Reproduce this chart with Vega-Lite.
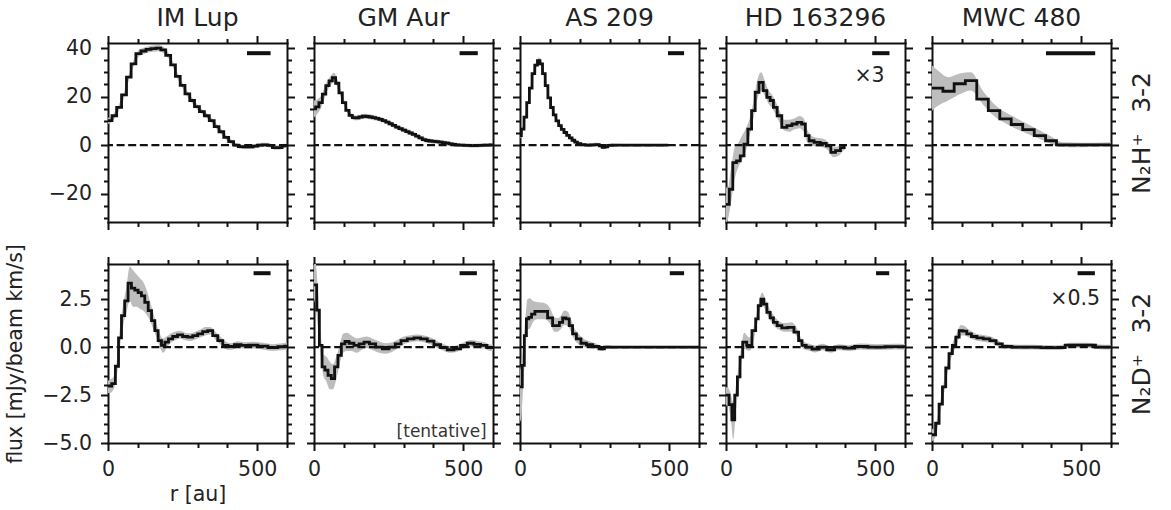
{
"$schema": "https://vega.github.io/schema/vega-lite/v6.json",
"padding": {"left": 5, "top": 5, "right": 5, "bottom": 5},
"background": "white",
"config": {
 "font": "DejaVu Sans",
 "view": {"stroke": null},
 "axis": {"grid": false, "domainColor": "#111", "domainWidth": 2, "domainCap": "square", "tickColor": "#111", "tickWidth": 2, "labelFont": "DejaVu Sans", "labelFontSize": 20.5, "labelColor": "#222", "titleFont": "DejaVu Sans", "titleFontSize": 20.5, "titleFontWeight": "normal", "titleColor": "#222", "labelPadding": 9, "labelOverlap": false, "labelFlush": false, "labelBound": false},
 "title": {"font": "DejaVu Sans", "fontSize": 25, "fontWeight": "normal", "color": "#222", "offset": 4, "anchor": "middle"}
},
"datasets": {
 "h1": [{"r":0,"v":10.1,"lo":8.8,"hi":11.4},{"r":6,"v":10.1,"lo":8.9,"hi":11.3},{"r":21,"v":12.1,"lo":10.9,"hi":13.3},{"r":37,"v":15.6,"lo":14.4,"hi":16.8},{"r":54,"v":20.7,"lo":19.4,"hi":22},{"r":70,"v":28,"lo":26.7,"hi":29.3},{"r":85,"v":33.5,"lo":32.2,"hi":34.8},{"r":102,"v":37.7,"lo":36.4,"hi":39},{"r":119,"v":38.8,"lo":37.5,"hi":40.1},{"r":136,"v":39.5,"lo":38.2,"hi":40.8},{"r":152,"v":39.8,"lo":38.5,"hi":41.1},{"r":169,"v":40,"lo":38.7,"hi":41.3},{"r":185,"v":39.3,"lo":38,"hi":40.6},{"r":202,"v":37,"lo":35.8,"hi":38.2},{"r":218,"v":33.1,"lo":31.9,"hi":34.3},{"r":234,"v":28.3,"lo":27.1,"hi":29.5},{"r":250,"v":24.6,"lo":23.5,"hi":25.7},{"r":266,"v":21.1,"lo":20,"hi":22.2},{"r":282,"v":18.4,"lo":17.3,"hi":19.5},{"r":298,"v":15.9,"lo":14.8,"hi":17},{"r":315,"v":13.8,"lo":12.8,"hi":14.8},{"r":331,"v":12.1,"lo":11.1,"hi":13.1},{"r":348,"v":10.1,"lo":9.1,"hi":11.1},{"r":364,"v":7.6,"lo":6.6,"hi":8.6},{"r":380,"v":5.5,"lo":4.5,"hi":6.5},{"r":396,"v":3.2,"lo":2.2,"hi":4.2},{"r":413,"v":1.4,"lo":0.5,"hi":2.3},{"r":429,"v":0,"lo":-0.9,"hi":0.9},{"r":445,"v":-0.6,"lo":-1.5,"hi":0.3},{"r":461,"v":-0.7,"lo":-1.6,"hi":0.2},{"r":478,"v":-0.7,"lo":-1.6,"hi":0.2},{"r":494,"v":-0.4,"lo":-1.3,"hi":0.5},{"r":510,"v":0,"lo":-0.9,"hi":0.9},{"r":526,"v":0.1,"lo":-0.8,"hi":1},{"r":543,"v":-0.1,"lo":-1,"hi":0.8},{"r":559,"v":-1,"lo":-1.9,"hi":-0.1},{"r":575,"v":-1,"lo":-1.9,"hi":-0.1},{"r":592,"v":-0.3,"lo":-1.2,"hi":0.6},{"r":600,"v":-0.3,"lo":-1.2,"hi":0.6}],
 "h2": [{"r":0,"v":14.9,"lo":11.4,"hi":18.4},{"r":11,"v":15.8,"lo":12.8,"hi":18.8},{"r":22,"v":17.5,"lo":15,"hi":20},{"r":34,"v":21,"lo":18.8,"hi":23.2},{"r":45,"v":24.5,"lo":22.5,"hi":26.5},{"r":56,"v":26.5,"lo":24.7,"hi":28.5},{"r":67,"v":27.8,"lo":26,"hi":29.8},{"r":78,"v":25.5,"lo":23.8,"hi":27.3},{"r":89,"v":21.5,"lo":20,"hi":23},{"r":101,"v":17.5,"lo":16.2,"hi":18.8},{"r":112,"v":14.3,"lo":13.1,"hi":15.5},{"r":123,"v":12.3,"lo":11.2,"hi":13.4},{"r":134,"v":11.3,"lo":10.3,"hi":12.3},{"r":145,"v":11.2,"lo":10.2,"hi":12.2},{"r":156,"v":11.6,"lo":10.6,"hi":12.6},{"r":168,"v":11.9,"lo":10.9,"hi":12.9},{"r":179,"v":11.8,"lo":10.8,"hi":12.8},{"r":190,"v":11.6,"lo":10.6,"hi":12.6},{"r":201,"v":11.3,"lo":10.3,"hi":12.3},{"r":212,"v":11,"lo":10,"hi":12},{"r":223,"v":10.6,"lo":9.6,"hi":11.6},{"r":235,"v":10.1,"lo":9.1,"hi":11.1},{"r":246,"v":9.5,"lo":8.5,"hi":10.5},{"r":257,"v":8.8,"lo":7.8,"hi":9.8},{"r":268,"v":8.1,"lo":7.1,"hi":9.1},{"r":279,"v":7.4,"lo":6.4,"hi":8.4},{"r":290,"v":6.8,"lo":5.8,"hi":7.8},{"r":302,"v":6.2,"lo":5.2,"hi":7.2},{"r":313,"v":5.6,"lo":4.6,"hi":6.6},{"r":324,"v":5,"lo":4,"hi":6},{"r":335,"v":4.4,"lo":3.4,"hi":5.4},{"r":346,"v":3.7,"lo":2.7,"hi":4.7},{"r":357,"v":3,"lo":2,"hi":4},{"r":369,"v":2.3,"lo":1.3,"hi":3.3},{"r":380,"v":1.9,"lo":1,"hi":2.8},{"r":391,"v":1.7,"lo":0.8,"hi":2.6},{"r":402,"v":1.5,"lo":0.6,"hi":2.4},{"r":413,"v":1.4,"lo":0.5,"hi":2.3},{"r":424,"v":1.2,"lo":0.3,"hi":2.1},{"r":436,"v":1,"lo":0.1,"hi":1.9},{"r":447,"v":0.8,"lo":-0.1,"hi":1.7},{"r":458,"v":0.5,"lo":-0.4,"hi":1.4},{"r":469,"v":0.3,"lo":-0.6,"hi":1.2},{"r":480,"v":0.1,"lo":-0.8,"hi":1},{"r":491,"v":0,"lo":-0.8,"hi":0.8},{"r":514,"v":-0.1,"lo":-0.9,"hi":0.7},{"r":536,"v":-0.2,"lo":-1,"hi":0.6},{"r":558,"v":-0.1,"lo":-0.9,"hi":0.7},{"r":580,"v":0,"lo":-0.8,"hi":0.8},{"r":600,"v":0.1,"lo":-0.7,"hi":0.9}],
 "h3": [{"r":0,"v":3.9,"lo":2.6,"hi":5.2},{"r":9,"v":6.6,"lo":5.3,"hi":7.9},{"r":18,"v":11.5,"lo":10.2,"hi":12.8},{"r":27,"v":17.5,"lo":16.2,"hi":18.8},{"r":36,"v":23.5,"lo":22.2,"hi":24.8},{"r":45,"v":29.5,"lo":28.2,"hi":30.8},{"r":54,"v":33,"lo":31.7,"hi":34.3},{"r":63,"v":34.8,"lo":33.5,"hi":36.1},{"r":71,"v":33.5,"lo":32.2,"hi":34.8},{"r":80,"v":29.5,"lo":28.2,"hi":30.8},{"r":89,"v":24.5,"lo":23.2,"hi":25.8},{"r":98,"v":19.5,"lo":18.3,"hi":20.7},{"r":107,"v":15.5,"lo":14.3,"hi":16.7},{"r":116,"v":12.5,"lo":11.4,"hi":13.6},{"r":125,"v":10,"lo":8.9,"hi":11.1},{"r":134,"v":8,"lo":6.9,"hi":9.1},{"r":143,"v":6.5,"lo":5.5,"hi":7.5},{"r":152,"v":5.2,"lo":4.2,"hi":6.2},{"r":161,"v":4,"lo":3,"hi":5},{"r":170,"v":3,"lo":2,"hi":4},{"r":179,"v":2,"lo":1,"hi":3},{"r":188,"v":1.2,"lo":0.3,"hi":2.1},{"r":197,"v":0.6,"lo":-0.3,"hi":1.5},{"r":210,"v":0.2,"lo":-0.6,"hi":1},{"r":227,"v":0,"lo":-0.8,"hi":0.8},{"r":244,"v":0.1,"lo":-0.7,"hi":0.9},{"r":260,"v":0.2,"lo":-0.6,"hi":1},{"r":271,"v":-0.3,"lo":-1.1,"hi":0.5},{"r":280,"v":-0.9,"lo":-1.7,"hi":-0.1},{"r":289,"v":-0.7,"lo":-1.5,"hi":0.1},{"r":299,"v":-0.1,"lo":-0.9,"hi":0.7},{"r":320,"v":0,"lo":-0.6,"hi":0.6},{"r":360,"v":0,"lo":-0.5,"hi":0.5},{"r":400,"v":0,"lo":-0.5,"hi":0.5},{"r":440,"v":0,"lo":-0.5,"hi":0.5},{"r":480,"v":0,"lo":-0.5,"hi":0.5},{"r":497,"v":0,"lo":-0.5,"hi":0.5}],
 "h4": [{"r":0,"v":-24.4,"lo":-32,"hi":-17},{"r":5.5,"v":-24.4,"lo":-31,"hi":-18},{"r":16.5,"v":-18.2,"lo":-24,"hi":-10},{"r":29,"v":-7.2,"lo":-14,"hi":-1},{"r":41.5,"v":-6.5,"lo":-9,"hi":1},{"r":54,"v":-4.4,"lo":-6,"hi":4},{"r":67,"v":0.4,"lo":-2,"hi":7},{"r":79.5,"v":6.6,"lo":4,"hi":11},{"r":92,"v":14.2,"lo":11,"hi":18},{"r":103.5,"v":21.8,"lo":18,"hi":26},{"r":117.5,"v":25.9,"lo":22.5,"hi":30},{"r":131.5,"v":22.5,"lo":20,"hi":26},{"r":142.5,"v":19.7,"lo":17,"hi":22.5},{"r":153.5,"v":18.4,"lo":15.5,"hi":21},{"r":164.5,"v":15.6,"lo":13,"hi":18.5},{"r":178.5,"v":12.1,"lo":9.5,"hi":14.5},{"r":195.5,"v":7.3,"lo":6,"hi":10.5},{"r":212.5,"v":8,"lo":5.5,"hi":10.5},{"r":229.5,"v":8.7,"lo":6.5,"hi":11},{"r":246.5,"v":9.4,"lo":7,"hi":12},{"r":260.5,"v":8.7,"lo":5.5,"hi":11},{"r":271.5,"v":3.9,"lo":1.5,"hi":6.5},{"r":285.5,"v":1.8,"lo":0,"hi":4},{"r":305,"v":1.1,"lo":-0.7,"hi":3},{"r":327.5,"v":0.7,"lo":-1,"hi":2.5},{"r":344.5,"v":-0.3,"lo":-2.5,"hi":1},{"r":358.5,"v":-3,"lo":-5,"hi":-1},{"r":375.5,"v":-2.3,"lo":-4.5,"hi":-0.5},{"r":392,"v":-1,"lo":-2.5,"hi":0.3},{"r":400,"v":-0.3,"lo":-1.5,"hi":0.5}],
 "h5": [{"r":0,"v":23.5,"lo":14.2,"hi":32.8},{"r":17.5,"v":23.5,"lo":16,"hi":31},{"r":55.5,"v":22.2,"lo":18.5,"hi":28},{"r":93,"v":25.3,"lo":21,"hi":29.5},{"r":130.5,"v":26.6,"lo":22.5,"hi":30},{"r":169.5,"v":19,"lo":17,"hi":22.5},{"r":208,"v":14.2,"lo":12,"hi":17},{"r":246.5,"v":10.8,"lo":9,"hi":13.5},{"r":284.5,"v":8.5,"lo":6.5,"hi":11},{"r":323.5,"v":6.4,"lo":4.5,"hi":8.5},{"r":362,"v":3.9,"lo":2.5,"hi":6},{"r":399.5,"v":1.8,"lo":0.5,"hi":3.5},{"r":435,"v":0.1,"lo":-0.8,"hi":1.2},{"r":500,"v":0.1,"lo":-0.9,"hi":1},{"r":550,"v":0.1,"lo":-0.7,"hi":1},{"r":600,"v":0.1,"lo":-0.5,"hi":1.2}],
 "d1": [{"r":0,"v":-2.03,"lo":-2.4,"hi":-1.75},{"r":6,"v":-2.03,"lo":-2.4,"hi":-1.7},{"r":19,"v":-1.9,"lo":-2.2,"hi":-1.55},{"r":30.5,"v":-1,"lo":-1.4,"hi":-0.6},{"r":40,"v":0.48,"lo":0,"hi":1},{"r":50.5,"v":1.64,"lo":1.1,"hi":2.2},{"r":61.5,"v":2.41,"lo":1.8,"hi":3.1},{"r":73,"v":3.33,"lo":2.4,"hi":4.2},{"r":84,"v":3.07,"lo":2.1,"hi":4},{"r":95.5,"v":2.97,"lo":2.1,"hi":3.8},{"r":106.5,"v":2.84,"lo":2,"hi":3.6},{"r":117.5,"v":2.67,"lo":1.9,"hi":3.4},{"r":129,"v":2.33,"lo":1.7,"hi":3},{"r":140.5,"v":1.9,"lo":1.4,"hi":2.4},{"r":151.5,"v":1.38,"lo":0.95,"hi":1.8},{"r":162.5,"v":0.86,"lo":0.5,"hi":1.2},{"r":173.5,"v":0.34,"lo":0,"hi":0.7},{"r":185,"v":0.09,"lo":-0.3,"hi":0.45},{"r":196.5,"v":0.26,"lo":-0.05,"hi":0.55},{"r":209,"v":0.43,"lo":0.2,"hi":0.7},{"r":224.5,"v":0.55,"lo":0.35,"hi":0.8},{"r":241.5,"v":0.64,"lo":0.45,"hi":0.85},{"r":258.5,"v":0.55,"lo":0.35,"hi":0.75},{"r":275.5,"v":0.52,"lo":0.32,"hi":0.72},{"r":292.5,"v":0.6,"lo":0.4,"hi":0.8},{"r":309,"v":0.69,"lo":0.5,"hi":0.9},{"r":325.5,"v":0.81,"lo":0.6,"hi":1.05},{"r":342.5,"v":0.86,"lo":0.65,"hi":1.05},{"r":359.5,"v":0.6,"lo":0.4,"hi":0.8},{"r":376.5,"v":0.34,"lo":0.15,"hi":0.55},{"r":393,"v":0.09,"lo":-0.1,"hi":0.3},{"r":412.5,"v":0.03,"lo":-0.15,"hi":0.2},{"r":435,"v":0.12,"lo":-0.05,"hi":0.3},{"r":457.5,"v":0.09,"lo":-0.08,"hi":0.25},{"r":485.5,"v":0.1,"lo":-0.08,"hi":0.28},{"r":519,"v":0.05,"lo":-0.12,"hi":0.22},{"r":553,"v":-0.03,"lo":-0.2,"hi":0.15},{"r":585,"v":0.02,"lo":-0.15,"hi":0.2},{"r":600,"v":0.05,"lo":-0.12,"hi":0.22}],
 "d2": [{"r":0,"v":3.24,"lo":2.5,"hi":4.8},{"r":4.5,"v":3.24,"lo":2.2,"hi":4.6},{"r":13.5,"v":1.93,"lo":1,"hi":2.9},{"r":22.5,"v":0.09,"lo":-0.4,"hi":0.7},{"r":31.5,"v":-1.03,"lo":-1.5,"hi":-0.4},{"r":41.5,"v":-1.2,"lo":-1.8,"hi":-0.5},{"r":52.5,"v":-1.47,"lo":-2.2,"hi":-0.75},{"r":63.5,"v":-1.64,"lo":-2.2,"hi":-0.9},{"r":74.5,"v":-1.03,"lo":-1.7,"hi":-0.5},{"r":86,"v":-0.43,"lo":-0.9,"hi":0.1},{"r":97.5,"v":0.17,"lo":-0.3,"hi":0.7},{"r":110,"v":0.29,"lo":-0.2,"hi":0.75},{"r":125.5,"v":0.2,"lo":-0.2,"hi":0.6},{"r":142.5,"v":0.09,"lo":-0.3,"hi":0.45},{"r":159.5,"v":0.17,"lo":-0.15,"hi":0.5},{"r":176,"v":0.26,"lo":-0.05,"hi":0.55},{"r":195.5,"v":0.17,"lo":-0.15,"hi":0.45},{"r":218,"v":0,"lo":-0.3,"hi":0.3},{"r":240,"v":-0.09,"lo":-0.35,"hi":0.2},{"r":262.5,"v":0,"lo":-0.25,"hi":0.25},{"r":282,"v":0.17,"lo":-0.05,"hi":0.4},{"r":301.5,"v":0.34,"lo":0.15,"hi":0.55},{"r":324,"v":0.43,"lo":0.25,"hi":0.62},{"r":346,"v":0.48,"lo":0.3,"hi":0.65},{"r":368.5,"v":0.43,"lo":0.25,"hi":0.6},{"r":391,"v":0.31,"lo":0.13,"hi":0.5},{"r":413,"v":0.12,"lo":-0.05,"hi":0.3},{"r":435.5,"v":-0.03,"lo":-0.2,"hi":0.15},{"r":458,"v":-0.14,"lo":-0.3,"hi":0.05},{"r":480,"v":-0.09,"lo":-0.25,"hi":0.1},{"r":502.5,"v":0.09,"lo":-0.08,"hi":0.25},{"r":525,"v":0.2,"lo":0.03,"hi":0.37},{"r":547,"v":0.14,"lo":-0.03,"hi":0.32},{"r":569.5,"v":0.09,"lo":-0.08,"hi":0.26},{"r":590,"v":-0.03,"lo":-0.2,"hi":0.14},{"r":600,"v":-0.03,"lo":-0.2,"hi":0.14}],
 "d3": [{"r":0,"v":-2.07,"lo":-3.9,"hi":-1.2},{"r":4,"v":-2.07,"lo":-3.7,"hi":-0.9},{"r":11,"v":-0.95,"lo":-2,"hi":0.2},{"r":18,"v":0.6,"lo":-0.2,"hi":1.5},{"r":25,"v":1.47,"lo":0.9,"hi":2.5},{"r":34,"v":1.55,"lo":1,"hi":2.55},{"r":43.5,"v":1.72,"lo":1.3,"hi":2.4},{"r":56.5,"v":1.86,"lo":1.45,"hi":2.35},{"r":81.5,"v":1.86,"lo":1.45,"hi":2.3},{"r":103.5,"v":1.52,"lo":1.15,"hi":1.95},{"r":115,"v":1.12,"lo":0.8,"hi":1.55},{"r":126.5,"v":1.12,"lo":0.8,"hi":1.5},{"r":137.5,"v":1.29,"lo":0.95,"hi":1.65},{"r":148.5,"v":1.52,"lo":1.15,"hi":1.9},{"r":159.5,"v":1.47,"lo":1.1,"hi":1.85},{"r":170.5,"v":1.12,"lo":0.8,"hi":1.45},{"r":182,"v":0.69,"lo":0.4,"hi":1},{"r":196,"v":0.43,"lo":0.15,"hi":0.7},{"r":212.5,"v":0.2,"lo":0,"hi":0.45},{"r":232.5,"v":0.12,"lo":-0.05,"hi":0.3},{"r":255,"v":0.03,"lo":-0.1,"hi":0.18},{"r":274.5,"v":-0.09,"lo":-0.2,"hi":0.05},{"r":291,"v":0,"lo":-0.1,"hi":0.1},{"r":320,"v":0,"lo":-0.06,"hi":0.06},{"r":380,"v":0,"lo":-0.06,"hi":0.06},{"r":440,"v":0,"lo":-0.06,"hi":0.06},{"r":500,"v":0,"lo":-0.06,"hi":0.06},{"r":560,"v":0,"lo":-0.06,"hi":0.06},{"r":600,"v":0,"lo":-0.06,"hi":0.06}],
 "d4": [{"r":0,"v":-2.5,"lo":-3.1,"hi":-2.1},{"r":5.5,"v":-2.5,"lo":-3,"hi":-2.1},{"r":15,"v":-3,"lo":-3.6,"hi":-2.4},{"r":24.5,"v":-3.79,"lo":-4.8,"hi":-2.9},{"r":34,"v":-2.5,"lo":-3.2,"hi":-1.9},{"r":42.5,"v":-1.55,"lo":-2.1,"hi":-1},{"r":51.5,"v":-0.52,"lo":-0.9,"hi":0},{"r":60.5,"v":0.26,"lo":-0.1,"hi":0.75},{"r":78.5,"v":0.09,"lo":-0.2,"hi":0.5},{"r":95.5,"v":0.86,"lo":0.55,"hi":1.2},{"r":103.5,"v":1.47,"lo":1.15,"hi":1.8},{"r":112.5,"v":2.16,"lo":1.85,"hi":2.5},{"r":121.5,"v":2.5,"lo":2.2,"hi":2.85},{"r":131.5,"v":2.24,"lo":1.95,"hi":2.55},{"r":142.5,"v":1.81,"lo":1.55,"hi":2.1},{"r":153.5,"v":1.52,"lo":1.25,"hi":1.8},{"r":164.5,"v":1.29,"lo":1.05,"hi":1.55},{"r":178.5,"v":1.12,"lo":0.9,"hi":1.35},{"r":195.5,"v":1,"lo":0.8,"hi":1.25},{"r":218,"v":1.03,"lo":0.8,"hi":1.3},{"r":237.5,"v":0.78,"lo":0.55,"hi":1},{"r":249,"v":0.34,"lo":0.15,"hi":0.55},{"r":260.5,"v":0.09,"lo":-0.1,"hi":0.3},{"r":277,"v":0,"lo":-0.18,"hi":0.18},{"r":299.5,"v":-0.1,"lo":-0.28,"hi":0.08},{"r":325,"v":0,"lo":-0.17,"hi":0.17},{"r":350,"v":-0.14,"lo":-0.3,"hi":0.02},{"r":378,"v":0,"lo":-0.15,"hi":0.15},{"r":411.5,"v":-0.05,"lo":-0.2,"hi":0.1},{"r":450.5,"v":0.03,"lo":-0.12,"hi":0.18},{"r":501,"v":0,"lo":-0.15,"hi":0.15},{"r":564.5,"v":0.02,"lo":-0.13,"hi":0.17},{"r":600,"v":0.02,"lo":-0.13,"hi":0.15}],
 "d5": [{"r":0,"v":-4.57,"lo":-4.9,"hi":-4.25},{"r":6,"v":-4.57,"lo":-4.85,"hi":-4.3},{"r":18,"v":-3.97,"lo":-4.3,"hi":-3.65},{"r":29.5,"v":-2.97,"lo":-3.3,"hi":-2.65},{"r":40.5,"v":-2.07,"lo":-2.4,"hi":-1.75},{"r":51.5,"v":-1.09,"lo":-1.4,"hi":-0.8},{"r":62.5,"v":-0.34,"lo":-0.65,"hi":-0.05},{"r":74,"v":0.09,"lo":-0.2,"hi":0.4},{"r":85.5,"v":0.52,"lo":0.25,"hi":0.8},{"r":96.5,"v":0.86,"lo":0.6,"hi":1.15},{"r":109,"v":0.83,"lo":0.6,"hi":1.1},{"r":124,"v":0.69,"lo":0.5,"hi":0.9},{"r":140.5,"v":0.55,"lo":0.38,"hi":0.75},{"r":160.5,"v":0.48,"lo":0.3,"hi":0.65},{"r":183,"v":0.43,"lo":0.25,"hi":0.6},{"r":205,"v":0.34,"lo":0.18,"hi":0.5},{"r":224.5,"v":0.17,"lo":0.02,"hi":0.32},{"r":247,"v":0.03,"lo":-0.1,"hi":0.16},{"r":289,"v":0,"lo":-0.12,"hi":0.12},{"r":339.5,"v":0,"lo":-0.12,"hi":0.12},{"r":390,"v":-0.03,"lo":-0.15,"hi":0.1},{"r":429.5,"v":-0.03,"lo":-0.15,"hi":0.1},{"r":463.5,"v":0.1,"lo":-0.03,"hi":0.23},{"r":519.5,"v":0.1,"lo":-0.03,"hi":0.23},{"r":576.5,"v":0,"lo":-0.12,"hi":0.12},{"r":600,"v":0,"lo":-0.12,"hi":0.12}]
},
"columns": 5,
"spacing": {"row": 42, "column": 27},
"bounds": "flush",
"concat": [
 {"width": 179, "height": 179, "title": {"text": "IM Lup"},
  "resolve": {"scale": {"x": "shared", "y": "shared"}, "axis": {"x": "independent", "y": "independent"}},
  "layer": [
   {"data": {"name": "h1"}, "mark": {"type": "area", "interpolate": "monotone", "color": "#bdbdbd", "clip": true},
    "encoding": {"x": {"field": "r", "type": "quantitative", "scale": {"domain": [0, 600], "nice": false, "zero": false}, "axis": {"orient": "bottom", "values": [0,100,200,300,400,500,600], "labels": false, "title": null, "tickSize": {"condition": {"test": "datum.value % 500 === 0", "value": 7.5}, "value": 4.5}}},
     "y": {"field": "lo", "type": "quantitative", "scale": {"domain": [-31.7, 42.1], "nice": false, "zero": false}, "axis": {"orient": "left", "values": [-30,-25,-20,-15,-10,-5,0,5,10,15,20,25,30,35,40], "format": "d", "labelExpr": "datum.value % 20 === 0 ? datum.label : ''", "title": null, "tickSize": {"condition": {"test": "datum.value % 20 === 0", "value": 7.5}, "value": 4.5}}},
     "y2": {"field": "hi"}}},
   {"data": {"values": [{"zero": 0}]}, "mark": {"type": "rule", "color": "#111", "strokeWidth": 2.2, "strokeDash": [8, 3.6]},
    "encoding": {"y": {"field": "zero", "type": "quantitative", "scale": {"domain": [-31.7, 42.1], "nice": false, "zero": false}, "axis": null}}},
   {"data": {"name": "h1"}, "mark": {"type": "line", "interpolate": "step", "color": "#111", "strokeWidth": 2.8, "clip": true},
    "encoding": {"x": {"field": "r", "type": "quantitative", "scale": {"domain": [0, 600], "nice": false, "zero": false}, "axis": {"orient": "top", "values": [0,100,200,300,400,500,600], "labels": false, "title": null, "tickSize": {"condition": {"test": "datum.value % 500 === 0", "value": 7.5}, "value": 4.5}}},
     "y": {"field": "v", "type": "quantitative", "scale": {"domain": [-31.7, 42.1], "nice": false, "zero": false}, "axis": {"orient": "right", "values": [-30,-25,-20,-15,-10,-5,0,5,10,15,20,25,30,35,40], "labels": false, "title": null, "tickSize": {"condition": {"test": "datum.value % 20 === 0", "value": 7.5}, "value": 4.5}}}}},
   {"data": {"values": [{"r0": 466, "r1": 545, "v": 37.9}]}, "mark": {"type": "rule", "color": "#111", "strokeWidth": 4},
    "encoding": {"x": {"field": "r0", "type": "quantitative", "scale": {"domain": [0, 600], "nice": false, "zero": false}, "axis": null}, "x2": {"field": "r1"}, "y": {"field": "v", "type": "quantitative", "scale": {"domain": [-31.7, 42.1], "nice": false, "zero": false}, "axis": null}}}
  ]},
 {"width": 179, "height": 179, "title": {"text": "GM Aur"},
  "resolve": {"scale": {"x": "shared", "y": "shared"}, "axis": {"x": "independent", "y": "independent"}},
  "layer": [
   {"data": {"name": "h2"}, "mark": {"type": "area", "interpolate": "monotone", "color": "#bdbdbd", "clip": true},
    "encoding": {"x": {"field": "r", "type": "quantitative", "scale": {"domain": [0, 600], "nice": false, "zero": false}, "axis": {"orient": "bottom", "values": [0,100,200,300,400,500,600], "labels": false, "title": null, "tickSize": {"condition": {"test": "datum.value % 500 === 0", "value": 7.5}, "value": 4.5}}},
     "y": {"field": "lo", "type": "quantitative", "scale": {"domain": [-31.7, 42.1], "nice": false, "zero": false}, "axis": {"orient": "left", "values": [-30,-25,-20,-15,-10,-5,0,5,10,15,20,25,30,35,40], "labels": false, "title": null, "tickSize": {"condition": {"test": "datum.value % 20 === 0", "value": 7.5}, "value": 4.5}}},
     "y2": {"field": "hi"}}},
   {"data": {"values": [{"zero": 0}]}, "mark": {"type": "rule", "color": "#111", "strokeWidth": 2.2, "strokeDash": [8, 3.6]},
    "encoding": {"y": {"field": "zero", "type": "quantitative", "scale": {"domain": [-31.7, 42.1], "nice": false, "zero": false}, "axis": null}}},
   {"data": {"name": "h2"}, "mark": {"type": "line", "interpolate": "step", "color": "#111", "strokeWidth": 2.8, "clip": true},
    "encoding": {"x": {"field": "r", "type": "quantitative", "scale": {"domain": [0, 600], "nice": false, "zero": false}, "axis": {"orient": "top", "values": [0,100,200,300,400,500,600], "labels": false, "title": null, "tickSize": {"condition": {"test": "datum.value % 500 === 0", "value": 7.5}, "value": 4.5}}},
     "y": {"field": "v", "type": "quantitative", "scale": {"domain": [-31.7, 42.1], "nice": false, "zero": false}, "axis": {"orient": "right", "values": [-30,-25,-20,-15,-10,-5,0,5,10,15,20,25,30,35,40], "labels": false, "title": null, "tickSize": {"condition": {"test": "datum.value % 20 === 0", "value": 7.5}, "value": 4.5}}}}},
   {"data": {"values": [{"r0": 488, "r1": 549, "v": 37.9}]}, "mark": {"type": "rule", "color": "#111", "strokeWidth": 4},
    "encoding": {"x": {"field": "r0", "type": "quantitative", "scale": {"domain": [0, 600], "nice": false, "zero": false}, "axis": null}, "x2": {"field": "r1"}, "y": {"field": "v", "type": "quantitative", "scale": {"domain": [-31.7, 42.1], "nice": false, "zero": false}, "axis": null}}}
  ]},
 {"width": 179, "height": 179, "title": {"text": "AS 209"},
  "resolve": {"scale": {"x": "shared", "y": "shared"}, "axis": {"x": "independent", "y": "independent"}},
  "layer": [
   {"data": {"name": "h3"}, "mark": {"type": "area", "interpolate": "monotone", "color": "#bdbdbd", "clip": true},
    "encoding": {"x": {"field": "r", "type": "quantitative", "scale": {"domain": [0, 600], "nice": false, "zero": false}, "axis": {"orient": "bottom", "values": [0,100,200,300,400,500,600], "labels": false, "title": null, "tickSize": {"condition": {"test": "datum.value % 500 === 0", "value": 7.5}, "value": 4.5}}},
     "y": {"field": "lo", "type": "quantitative", "scale": {"domain": [-31.7, 42.1], "nice": false, "zero": false}, "axis": {"orient": "left", "values": [-30,-25,-20,-15,-10,-5,0,5,10,15,20,25,30,35,40], "labels": false, "title": null, "tickSize": {"condition": {"test": "datum.value % 20 === 0", "value": 7.5}, "value": 4.5}}},
     "y2": {"field": "hi"}}},
   {"data": {"values": [{"zero": 0}]}, "mark": {"type": "rule", "color": "#111", "strokeWidth": 2.2, "strokeDash": [8, 3.6]},
    "encoding": {"y": {"field": "zero", "type": "quantitative", "scale": {"domain": [-31.7, 42.1], "nice": false, "zero": false}, "axis": null}}},
   {"data": {"name": "h3"}, "mark": {"type": "line", "interpolate": "step", "color": "#111", "strokeWidth": 2.8, "clip": true},
    "encoding": {"x": {"field": "r", "type": "quantitative", "scale": {"domain": [0, 600], "nice": false, "zero": false}, "axis": {"orient": "top", "values": [0,100,200,300,400,500,600], "labels": false, "title": null, "tickSize": {"condition": {"test": "datum.value % 500 === 0", "value": 7.5}, "value": 4.5}}},
     "y": {"field": "v", "type": "quantitative", "scale": {"domain": [-31.7, 42.1], "nice": false, "zero": false}, "axis": {"orient": "right", "values": [-30,-25,-20,-15,-10,-5,0,5,10,15,20,25,30,35,40], "labels": false, "title": null, "tickSize": {"condition": {"test": "datum.value % 20 === 0", "value": 7.5}, "value": 4.5}}}}},
   {"data": {"values": [{"r0": 496, "r1": 550, "v": 37.9}]}, "mark": {"type": "rule", "color": "#111", "strokeWidth": 4},
    "encoding": {"x": {"field": "r0", "type": "quantitative", "scale": {"domain": [0, 600], "nice": false, "zero": false}, "axis": null}, "x2": {"field": "r1"}, "y": {"field": "v", "type": "quantitative", "scale": {"domain": [-31.7, 42.1], "nice": false, "zero": false}, "axis": null}}}
  ]},
 {"width": 179, "height": 179, "title": {"text": "HD 163296"},
  "resolve": {"scale": {"x": "shared", "y": "shared"}, "axis": {"x": "independent", "y": "independent"}},
  "layer": [
   {"data": {"name": "h4"}, "mark": {"type": "area", "interpolate": "monotone", "color": "#bdbdbd", "clip": true},
    "encoding": {"x": {"field": "r", "type": "quantitative", "scale": {"domain": [0, 600], "nice": false, "zero": false}, "axis": {"orient": "bottom", "values": [0,100,200,300,400,500,600], "labels": false, "title": null, "tickSize": {"condition": {"test": "datum.value % 500 === 0", "value": 7.5}, "value": 4.5}}},
     "y": {"field": "lo", "type": "quantitative", "scale": {"domain": [-31.7, 42.1], "nice": false, "zero": false}, "axis": {"orient": "left", "values": [-30,-25,-20,-15,-10,-5,0,5,10,15,20,25,30,35,40], "labels": false, "title": null, "tickSize": {"condition": {"test": "datum.value % 20 === 0", "value": 7.5}, "value": 4.5}}},
     "y2": {"field": "hi"}}},
   {"data": {"values": [{"zero": 0}]}, "mark": {"type": "rule", "color": "#111", "strokeWidth": 2.2, "strokeDash": [8, 3.6]},
    "encoding": {"y": {"field": "zero", "type": "quantitative", "scale": {"domain": [-31.7, 42.1], "nice": false, "zero": false}, "axis": null}}},
   {"data": {"name": "h4"}, "mark": {"type": "line", "interpolate": "step", "color": "#111", "strokeWidth": 2.8, "clip": true},
    "encoding": {"x": {"field": "r", "type": "quantitative", "scale": {"domain": [0, 600], "nice": false, "zero": false}, "axis": {"orient": "top", "values": [0,100,200,300,400,500,600], "labels": false, "title": null, "tickSize": {"condition": {"test": "datum.value % 500 === 0", "value": 7.5}, "value": 4.5}}},
     "y": {"field": "v", "type": "quantitative", "scale": {"domain": [-31.7, 42.1], "nice": false, "zero": false}, "axis": {"orient": "right", "values": [-30,-25,-20,-15,-10,-5,0,5,10,15,20,25,30,35,40], "labels": false, "title": null, "tickSize": {"condition": {"test": "datum.value % 20 === 0", "value": 7.5}, "value": 4.5}}}}},
   {"data": {"values": [{"r0": 490, "r1": 548, "v": 37.9}]}, "mark": {"type": "rule", "color": "#111", "strokeWidth": 4},
    "encoding": {"x": {"field": "r0", "type": "quantitative", "scale": {"domain": [0, 600], "nice": false, "zero": false}, "axis": null}, "x2": {"field": "r1"}, "y": {"field": "v", "type": "quantitative", "scale": {"domain": [-31.7, 42.1], "nice": false, "zero": false}, "axis": null}}},
   {"data": {"values": [{"r": 481, "v": 28.4, "t": "×3"}]}, "mark": {"type": "text", "fontSize": 20.5, "color": "#222", "align": "center", "baseline": "middle"},
    "encoding": {"x": {"field": "r", "type": "quantitative", "scale": {"domain": [0, 600], "nice": false, "zero": false}, "axis": null}, "y": {"field": "v", "type": "quantitative", "scale": {"domain": [-31.7, 42.1], "nice": false, "zero": false}, "axis": null}, "text": {"field": "t"}}}
  ]},
 {"width": 179, "height": 179, "title": {"text": "MWC 480"},
  "resolve": {"scale": {"x": "shared", "y": "shared"}, "axis": {"x": "independent", "y": "independent"}},
  "layer": [
   {"data": {"name": "h5"}, "mark": {"type": "area", "interpolate": "monotone", "color": "#bdbdbd", "clip": true},
    "encoding": {"x": {"field": "r", "type": "quantitative", "scale": {"domain": [0, 600], "nice": false, "zero": false}, "axis": {"orient": "bottom", "values": [0,100,200,300,400,500,600], "labels": false, "title": null, "tickSize": {"condition": {"test": "datum.value % 500 === 0", "value": 7.5}, "value": 4.5}}},
     "y": {"field": "lo", "type": "quantitative", "scale": {"domain": [-31.7, 42.1], "nice": false, "zero": false}, "axis": {"orient": "left", "values": [-30,-25,-20,-15,-10,-5,0,5,10,15,20,25,30,35,40], "labels": false, "title": null, "tickSize": {"condition": {"test": "datum.value % 20 === 0", "value": 7.5}, "value": 4.5}}},
     "y2": {"field": "hi"}}},
   {"data": {"values": [{"zero": 0}]}, "mark": {"type": "rule", "color": "#111", "strokeWidth": 2.2, "strokeDash": [8, 3.6]},
    "encoding": {"y": {"field": "zero", "type": "quantitative", "scale": {"domain": [-31.7, 42.1], "nice": false, "zero": false}, "axis": null}}},
   {"data": {"name": "h5"}, "mark": {"type": "line", "interpolate": "step", "color": "#111", "strokeWidth": 2.8, "clip": true},
    "encoding": {"x": {"field": "r", "type": "quantitative", "scale": {"domain": [0, 600], "nice": false, "zero": false}, "axis": {"orient": "top", "values": [0,100,200,300,400,500,600], "labels": false, "title": null, "tickSize": {"condition": {"test": "datum.value % 500 === 0", "value": 7.5}, "value": 4.5}}},
     "y": {"field": "v", "type": "quantitative", "scale": {"domain": [-31.7, 42.1], "nice": false, "zero": false}, "axis": {"orient": "right", "values": [-30,-25,-20,-15,-10,-5,0,5,10,15,20,25,30,35,40], "labels": false, "title": "N₂H⁺\u2002 3-2", "titleAngle": 270, "titleBaseline": "top", "titleFontSize": 25, "titlePadding": 10, "tickSize": {"condition": {"test": "datum.value % 20 === 0", "value": 7.5}, "value": 4.5}}}}},
   {"data": {"values": [{"r0": 382, "r1": 547, "v": 37.9}]}, "mark": {"type": "rule", "color": "#111", "strokeWidth": 4},
    "encoding": {"x": {"field": "r0", "type": "quantitative", "scale": {"domain": [0, 600], "nice": false, "zero": false}, "axis": null}, "x2": {"field": "r1"}, "y": {"field": "v", "type": "quantitative", "scale": {"domain": [-31.7, 42.1], "nice": false, "zero": false}, "axis": null}}}
  ]},
 {"width": 179, "height": 179,
  "resolve": {"scale": {"x": "shared", "y": "shared"}, "axis": {"x": "independent", "y": "independent"}},
  "layer": [
   {"data": {"name": "d1"}, "mark": {"type": "area", "interpolate": "monotone", "color": "#bdbdbd", "clip": true},
    "encoding": {"x": {"field": "r", "type": "quantitative", "scale": {"domain": [0, 600], "nice": false, "zero": false}, "axis": {"orient": "bottom", "values": [0,100,200,300,400,500,600], "labelExpr": "datum.value % 500 === 0 ? datum.label : ''", "title": "r [au]", "tickSize": {"condition": {"test": "datum.value % 500 === 0", "value": 7.5}, "value": 4.5}}},
     "y": {"field": "lo", "type": "quantitative", "scale": {"domain": [-5, 4.33], "nice": false, "zero": false}, "axis": {"orient": "left", "values": [-5,-4.5,-4,-3.5,-3,-2.5,-2,-1.5,-1,-0.5,0,0.5,1,1.5,2,2.5,3,3.5,4], "format": ".1f", "labelExpr": "datum.value % 2.5 === 0 ? datum.label : ''", "title": "flux [mJy/beam km/s]", "titlePadding": 16, "tickSize": {"condition": {"test": "datum.value % 2.5 === 0", "value": 7.5}, "value": 4.5}}},
     "y2": {"field": "hi"}}},
   {"data": {"values": [{"zero": 0}]}, "mark": {"type": "rule", "color": "#111", "strokeWidth": 2.2, "strokeDash": [8, 3.6]},
    "encoding": {"y": {"field": "zero", "type": "quantitative", "scale": {"domain": [-5, 4.33], "nice": false, "zero": false}, "axis": null}}},
   {"data": {"name": "d1"}, "mark": {"type": "line", "interpolate": "step", "color": "#111", "strokeWidth": 2.8, "clip": true},
    "encoding": {"x": {"field": "r", "type": "quantitative", "scale": {"domain": [0, 600], "nice": false, "zero": false}, "axis": {"orient": "top", "values": [0,100,200,300,400,500,600], "labels": false, "title": null, "tickSize": {"condition": {"test": "datum.value % 500 === 0", "value": 7.5}, "value": 4.5}}},
     "y": {"field": "v", "type": "quantitative", "scale": {"domain": [-5, 4.33], "nice": false, "zero": false}, "axis": {"orient": "right", "values": [-5,-4.5,-4,-3.5,-3,-2.5,-2,-1.5,-1,-0.5,0,0.5,1,1.5,2,2.5,3,3.5,4], "labels": false, "title": null, "tickSize": {"condition": {"test": "datum.value % 2.5 === 0", "value": 7.5}, "value": 4.5}}}}},
   {"data": {"values": [{"r0": 488, "r1": 545, "v": 3.85}]}, "mark": {"type": "rule", "color": "#111", "strokeWidth": 4},
    "encoding": {"x": {"field": "r0", "type": "quantitative", "scale": {"domain": [0, 600], "nice": false, "zero": false}, "axis": null}, "x2": {"field": "r1"}, "y": {"field": "v", "type": "quantitative", "scale": {"domain": [-5, 4.33], "nice": false, "zero": false}, "axis": null}}}
  ]},
 {"width": 179, "height": 179,
  "resolve": {"scale": {"x": "shared", "y": "shared"}, "axis": {"x": "independent", "y": "independent"}},
  "layer": [
   {"data": {"name": "d2"}, "mark": {"type": "area", "interpolate": "monotone", "color": "#bdbdbd", "clip": true},
    "encoding": {"x": {"field": "r", "type": "quantitative", "scale": {"domain": [0, 600], "nice": false, "zero": false}, "axis": {"orient": "bottom", "values": [0,100,200,300,400,500,600], "labelExpr": "datum.value % 500 === 0 ? datum.label : ''", "title": null, "tickSize": {"condition": {"test": "datum.value % 500 === 0", "value": 7.5}, "value": 4.5}}},
     "y": {"field": "lo", "type": "quantitative", "scale": {"domain": [-5, 4.33], "nice": false, "zero": false}, "axis": {"orient": "left", "values": [-5,-4.5,-4,-3.5,-3,-2.5,-2,-1.5,-1,-0.5,0,0.5,1,1.5,2,2.5,3,3.5,4], "labels": false, "title": null, "tickSize": {"condition": {"test": "datum.value % 2.5 === 0", "value": 7.5}, "value": 4.5}}},
     "y2": {"field": "hi"}}},
   {"data": {"values": [{"zero": 0}]}, "mark": {"type": "rule", "color": "#111", "strokeWidth": 2.2, "strokeDash": [8, 3.6]},
    "encoding": {"y": {"field": "zero", "type": "quantitative", "scale": {"domain": [-5, 4.33], "nice": false, "zero": false}, "axis": null}}},
   {"data": {"name": "d2"}, "mark": {"type": "line", "interpolate": "step", "color": "#111", "strokeWidth": 2.8, "clip": true},
    "encoding": {"x": {"field": "r", "type": "quantitative", "scale": {"domain": [0, 600], "nice": false, "zero": false}, "axis": {"orient": "top", "values": [0,100,200,300,400,500,600], "labels": false, "title": null, "tickSize": {"condition": {"test": "datum.value % 500 === 0", "value": 7.5}, "value": 4.5}}},
     "y": {"field": "v", "type": "quantitative", "scale": {"domain": [-5, 4.33], "nice": false, "zero": false}, "axis": {"orient": "right", "values": [-5,-4.5,-4,-3.5,-3,-2.5,-2,-1.5,-1,-0.5,0,0.5,1,1.5,2,2.5,3,3.5,4], "labels": false, "title": null, "tickSize": {"condition": {"test": "datum.value % 2.5 === 0", "value": 7.5}, "value": 4.5}}}}},
   {"data": {"values": [{"r0": 488, "r1": 546, "v": 3.85}]}, "mark": {"type": "rule", "color": "#111", "strokeWidth": 4},
    "encoding": {"x": {"field": "r0", "type": "quantitative", "scale": {"domain": [0, 600], "nice": false, "zero": false}, "axis": null}, "x2": {"field": "r1"}, "y": {"field": "v", "type": "quantitative", "scale": {"domain": [-5, 4.33], "nice": false, "zero": false}, "axis": null}}},
   {"data": {"values": [{"r": 579, "v": -4.44, "t": "[tentative]"}]}, "mark": {"type": "text", "fontSize": 17, "color": "#333", "align": "right", "baseline": "middle"},
    "encoding": {"x": {"field": "r", "type": "quantitative", "scale": {"domain": [0, 600], "nice": false, "zero": false}, "axis": null}, "y": {"field": "v", "type": "quantitative", "scale": {"domain": [-5, 4.33], "nice": false, "zero": false}, "axis": null}, "text": {"field": "t"}}}
  ]},
 {"width": 179, "height": 179,
  "resolve": {"scale": {"x": "shared", "y": "shared"}, "axis": {"x": "independent", "y": "independent"}},
  "layer": [
   {"data": {"name": "d3"}, "mark": {"type": "area", "interpolate": "monotone", "color": "#bdbdbd", "clip": true},
    "encoding": {"x": {"field": "r", "type": "quantitative", "scale": {"domain": [0, 600], "nice": false, "zero": false}, "axis": {"orient": "bottom", "values": [0,100,200,300,400,500,600], "labelExpr": "datum.value % 500 === 0 ? datum.label : ''", "title": null, "tickSize": {"condition": {"test": "datum.value % 500 === 0", "value": 7.5}, "value": 4.5}}},
     "y": {"field": "lo", "type": "quantitative", "scale": {"domain": [-5, 4.33], "nice": false, "zero": false}, "axis": {"orient": "left", "values": [-5,-4.5,-4,-3.5,-3,-2.5,-2,-1.5,-1,-0.5,0,0.5,1,1.5,2,2.5,3,3.5,4], "labels": false, "title": null, "tickSize": {"condition": {"test": "datum.value % 2.5 === 0", "value": 7.5}, "value": 4.5}}},
     "y2": {"field": "hi"}}},
   {"data": {"values": [{"zero": 0}]}, "mark": {"type": "rule", "color": "#111", "strokeWidth": 2.2, "strokeDash": [8, 3.6]},
    "encoding": {"y": {"field": "zero", "type": "quantitative", "scale": {"domain": [-5, 4.33], "nice": false, "zero": false}, "axis": null}}},
   {"data": {"name": "d3"}, "mark": {"type": "line", "interpolate": "step", "color": "#111", "strokeWidth": 2.8, "clip": true},
    "encoding": {"x": {"field": "r", "type": "quantitative", "scale": {"domain": [0, 600], "nice": false, "zero": false}, "axis": {"orient": "top", "values": [0,100,200,300,400,500,600], "labels": false, "title": null, "tickSize": {"condition": {"test": "datum.value % 500 === 0", "value": 7.5}, "value": 4.5}}},
     "y": {"field": "v", "type": "quantitative", "scale": {"domain": [-5, 4.33], "nice": false, "zero": false}, "axis": {"orient": "right", "values": [-5,-4.5,-4,-3.5,-3,-2.5,-2,-1.5,-1,-0.5,0,0.5,1,1.5,2,2.5,3,3.5,4], "labels": false, "title": null, "tickSize": {"condition": {"test": "datum.value % 2.5 === 0", "value": 7.5}, "value": 4.5}}}}},
   {"data": {"values": [{"r0": 502, "r1": 550, "v": 3.85}]}, "mark": {"type": "rule", "color": "#111", "strokeWidth": 4},
    "encoding": {"x": {"field": "r0", "type": "quantitative", "scale": {"domain": [0, 600], "nice": false, "zero": false}, "axis": null}, "x2": {"field": "r1"}, "y": {"field": "v", "type": "quantitative", "scale": {"domain": [-5, 4.33], "nice": false, "zero": false}, "axis": null}}}
  ]},
 {"width": 179, "height": 179,
  "resolve": {"scale": {"x": "shared", "y": "shared"}, "axis": {"x": "independent", "y": "independent"}},
  "layer": [
   {"data": {"name": "d4"}, "mark": {"type": "area", "interpolate": "monotone", "color": "#bdbdbd", "clip": true},
    "encoding": {"x": {"field": "r", "type": "quantitative", "scale": {"domain": [0, 600], "nice": false, "zero": false}, "axis": {"orient": "bottom", "values": [0,100,200,300,400,500,600], "labelExpr": "datum.value % 500 === 0 ? datum.label : ''", "title": null, "tickSize": {"condition": {"test": "datum.value % 500 === 0", "value": 7.5}, "value": 4.5}}},
     "y": {"field": "lo", "type": "quantitative", "scale": {"domain": [-5, 4.33], "nice": false, "zero": false}, "axis": {"orient": "left", "values": [-5,-4.5,-4,-3.5,-3,-2.5,-2,-1.5,-1,-0.5,0,0.5,1,1.5,2,2.5,3,3.5,4], "labels": false, "title": null, "tickSize": {"condition": {"test": "datum.value % 2.5 === 0", "value": 7.5}, "value": 4.5}}},
     "y2": {"field": "hi"}}},
   {"data": {"values": [{"zero": 0}]}, "mark": {"type": "rule", "color": "#111", "strokeWidth": 2.2, "strokeDash": [8, 3.6]},
    "encoding": {"y": {"field": "zero", "type": "quantitative", "scale": {"domain": [-5, 4.33], "nice": false, "zero": false}, "axis": null}}},
   {"data": {"name": "d4"}, "mark": {"type": "line", "interpolate": "step", "color": "#111", "strokeWidth": 2.8, "clip": true},
    "encoding": {"x": {"field": "r", "type": "quantitative", "scale": {"domain": [0, 600], "nice": false, "zero": false}, "axis": {"orient": "top", "values": [0,100,200,300,400,500,600], "labels": false, "title": null, "tickSize": {"condition": {"test": "datum.value % 500 === 0", "value": 7.5}, "value": 4.5}}},
     "y": {"field": "v", "type": "quantitative", "scale": {"domain": [-5, 4.33], "nice": false, "zero": false}, "axis": {"orient": "right", "values": [-5,-4.5,-4,-3.5,-3,-2.5,-2,-1.5,-1,-0.5,0,0.5,1,1.5,2,2.5,3,3.5,4], "labels": false, "title": null, "tickSize": {"condition": {"test": "datum.value % 2.5 === 0", "value": 7.5}, "value": 4.5}}}}},
   {"data": {"values": [{"r0": 503, "r1": 547, "v": 3.85}]}, "mark": {"type": "rule", "color": "#111", "strokeWidth": 4},
    "encoding": {"x": {"field": "r0", "type": "quantitative", "scale": {"domain": [0, 600], "nice": false, "zero": false}, "axis": null}, "x2": {"field": "r1"}, "y": {"field": "v", "type": "quantitative", "scale": {"domain": [-5, 4.33], "nice": false, "zero": false}, "axis": null}}}
  ]},
 {"width": 179, "height": 179,
  "resolve": {"scale": {"x": "shared", "y": "shared"}, "axis": {"x": "independent", "y": "independent"}},
  "layer": [
   {"data": {"name": "d5"}, "mark": {"type": "area", "interpolate": "monotone", "color": "#bdbdbd", "clip": true},
    "encoding": {"x": {"field": "r", "type": "quantitative", "scale": {"domain": [0, 600], "nice": false, "zero": false}, "axis": {"orient": "bottom", "values": [0,100,200,300,400,500,600], "labelExpr": "datum.value % 500 === 0 ? datum.label : ''", "title": null, "tickSize": {"condition": {"test": "datum.value % 500 === 0", "value": 7.5}, "value": 4.5}}},
     "y": {"field": "lo", "type": "quantitative", "scale": {"domain": [-5, 4.33], "nice": false, "zero": false}, "axis": {"orient": "left", "values": [-5,-4.5,-4,-3.5,-3,-2.5,-2,-1.5,-1,-0.5,0,0.5,1,1.5,2,2.5,3,3.5,4], "labels": false, "title": null, "tickSize": {"condition": {"test": "datum.value % 2.5 === 0", "value": 7.5}, "value": 4.5}}},
     "y2": {"field": "hi"}}},
   {"data": {"values": [{"zero": 0}]}, "mark": {"type": "rule", "color": "#111", "strokeWidth": 2.2, "strokeDash": [8, 3.6]},
    "encoding": {"y": {"field": "zero", "type": "quantitative", "scale": {"domain": [-5, 4.33], "nice": false, "zero": false}, "axis": null}}},
   {"data": {"name": "d5"}, "mark": {"type": "line", "interpolate": "step", "color": "#111", "strokeWidth": 2.8, "clip": true},
    "encoding": {"x": {"field": "r", "type": "quantitative", "scale": {"domain": [0, 600], "nice": false, "zero": false}, "axis": {"orient": "top", "values": [0,100,200,300,400,500,600], "labels": false, "title": null, "tickSize": {"condition": {"test": "datum.value % 500 === 0", "value": 7.5}, "value": 4.5}}},
     "y": {"field": "v", "type": "quantitative", "scale": {"domain": [-5, 4.33], "nice": false, "zero": false}, "axis": {"orient": "right", "values": [-5,-4.5,-4,-3.5,-3,-2.5,-2,-1.5,-1,-0.5,0,0.5,1,1.5,2,2.5,3,3.5,4], "labels": false, "title": "N₂D⁺\u2002 3-2", "titleAngle": 270, "titleBaseline": "top", "titleFontSize": 25, "titlePadding": 10, "tickSize": {"condition": {"test": "datum.value % 2.5 === 0", "value": 7.5}, "value": 4.5}}}}},
   {"data": {"values": [{"r0": 488, "r1": 546, "v": 3.85}]}, "mark": {"type": "rule", "color": "#111", "strokeWidth": 4},
    "encoding": {"x": {"field": "r0", "type": "quantitative", "scale": {"domain": [0, 600], "nice": false, "zero": false}, "axis": null}, "x2": {"field": "r1"}, "y": {"field": "v", "type": "quantitative", "scale": {"domain": [-5, 4.33], "nice": false, "zero": false}, "axis": null}}},
   {"data": {"values": [{"r": 480, "v": 2.5, "t": "×0.5"}]}, "mark": {"type": "text", "fontSize": 20.5, "color": "#222", "align": "center", "baseline": "middle"},
    "encoding": {"x": {"field": "r", "type": "quantitative", "scale": {"domain": [0, 600], "nice": false, "zero": false}, "axis": null}, "y": {"field": "v", "type": "quantitative", "scale": {"domain": [-5, 4.33], "nice": false, "zero": false}, "axis": null}, "text": {"field": "t"}}}
  ]}
]
}
